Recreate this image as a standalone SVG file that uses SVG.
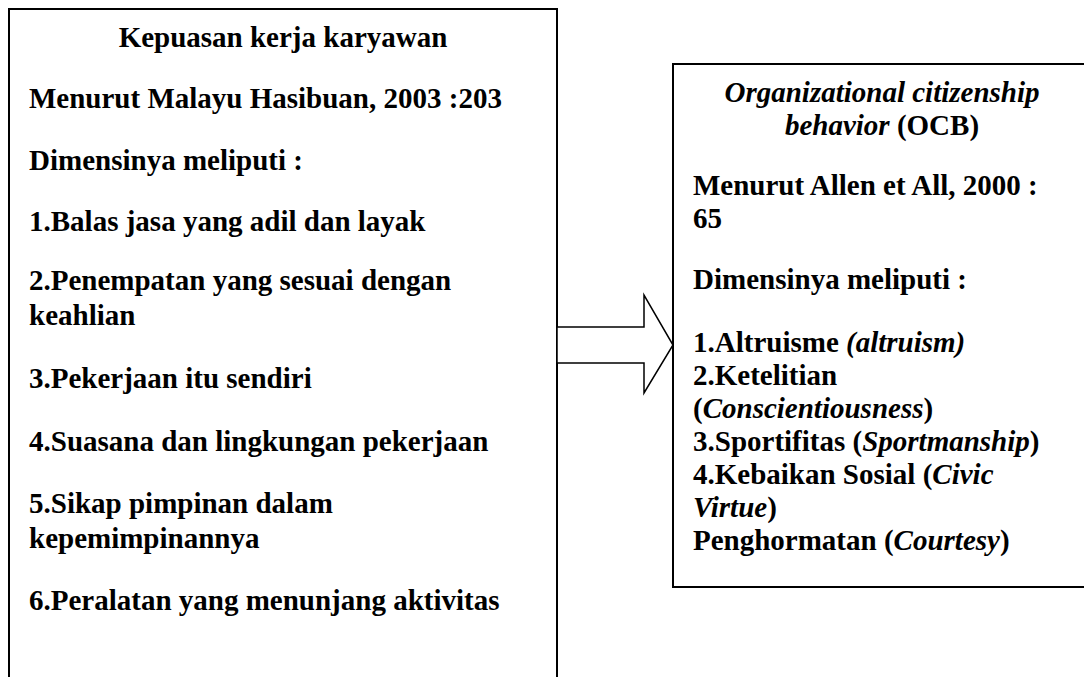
<svg xmlns="http://www.w3.org/2000/svg" width="1084" height="677" viewBox="0 0 1084 677">
<style>
.box{fill:#fff;stroke:#000;stroke-width:2}
.t{font-family:"Liberation Serif","Times New Roman",serif;font-size:29px;font-weight:bold;fill:#000}
.i{font-style:italic}
.c{text-anchor:middle}
.arrow{fill:#fff;stroke:#000;stroke-width:1.5;stroke-linejoin:miter}
</style>
<rect width="1084" height="677" fill="#fff"/>
<g id="node-kepuasan">
<rect class="box" x="9" y="9" width="548" height="690"/>
<text class="t c" x="283" y="47">Kepuasan kerja karyawan</text>
<text class="t" x="29" y="108">Menurut Malayu Hasibuan, 2003 :203</text>
<text class="t" x="29" y="170">Dimensinya meliputi :</text>
<text class="t" x="29" y="231">1.Balas jasa yang adil dan layak</text>
<text class="t" x="29" y="290">2.Penempatan yang sesuai dengan</text>
<text class="t" x="29" y="325">keahlian</text>
<text class="t" x="29" y="388">3.Pekerjaan itu sendiri</text>
<text class="t" x="29" y="451">4.Suasana dan lingkungan pekerjaan</text>
<text class="t" x="29" y="513">5.Sikap pimpinan dalam</text>
<text class="t" x="29" y="548">kepemimpinannya</text>
<text class="t" x="29" y="610">6.Peralatan yang menunjang aktivitas</text>
</g>
<g id="node-ocb">
<rect class="box" x="673" y="64" width="420" height="523"/>
<text class="t c" x="882" y="102"><tspan class="i">Organizational citizenship</tspan></text>
<text class="t c" x="882" y="135"><tspan class="i">behavior</tspan> (OCB)</text>
<text class="t" x="693" y="195">Menurut Allen et All, 2000 :</text>
<text class="t" x="693" y="228">65</text>
<text class="t" x="693" y="289">Dimensinya meliputi :</text>
<text class="t" x="693" y="352">1.Altruisme <tspan class="i">(altruism)</tspan></text>
<text class="t" x="693" y="385">2.Ketelitian</text>
<text class="t" x="693" y="418">(<tspan class="i">Conscientiousness</tspan>)</text>
<text class="t" x="693" y="451">3.Sportifitas (<tspan class="i">Sportmanship</tspan>)</text>
<text class="t" x="693" y="484">4.Kebaikan Sosial (<tspan class="i">Civic</tspan></text>
<text class="t" x="693" y="517"><tspan class="i">Virtue</tspan>)</text>
<text class="t" x="693" y="550">Penghormatan (<tspan class="i">Courtesy</tspan>)</text>
</g>
<g id="connectors">
<polygon class="arrow" points="557,327 644,327 644,295 673,345 644,393 644,363 557,363"/>
</g>
</svg>
